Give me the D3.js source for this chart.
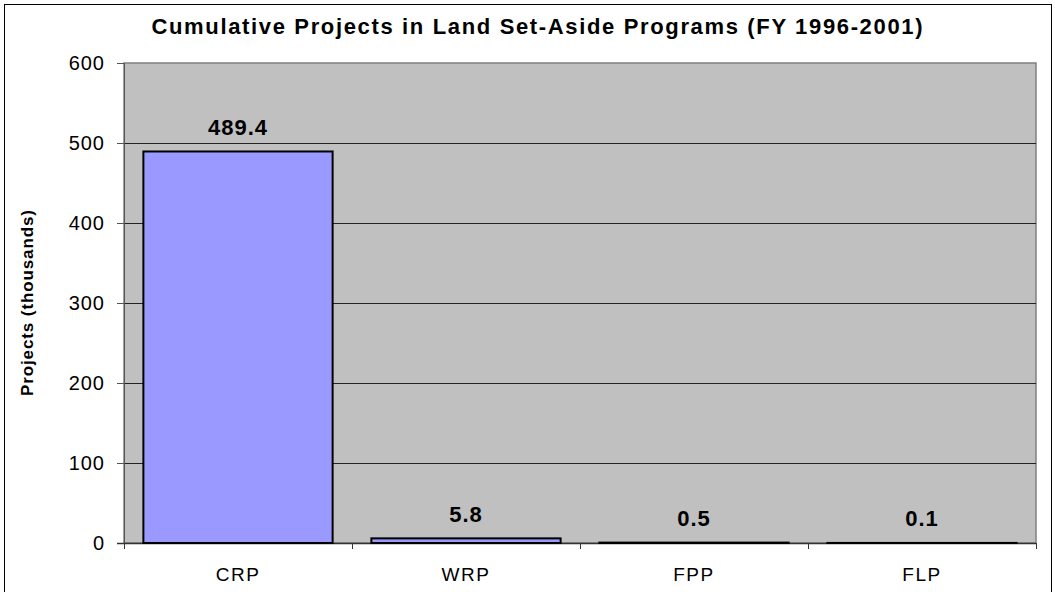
<!DOCTYPE html>
<html lang="en"><head>
<meta charset="utf-8">
<title>Land Set-Aside Programs</title>
<script src="https://cdnjs.cloudflare.com/ajax/libs/d3/7.8.5/d3.min.js"></script>
<style>
  body { margin: 0; background: #fff; }
  text { font-family: "Liberation Sans", Arial, sans-serif; }
</style>
</head>
<body>
<div id="chart"></div>
<script>
var programs = ["CRP", "WRP", "FPP", "FLP"];
var projects = [489.4, 5.8, 0.5, 0.1];
var yTicks = [0, 100, 200, 300, 400, 500, 600];

var W = 1055, H = 592;
var plot = {left: 124, top: 63, right: 1036, bottom: 543};

var svg = d3.select("#chart").append("svg")
  .attr("width", W).attr("height", H);

// outer chart border
svg.append("rect")
  .attr("x", 4.5).attr("y", 4.5)
  .attr("width", 1047).attr("height", 600)
  .attr("fill", "none").attr("stroke", "#000").attr("stroke-width", 1);

var x = d3.scaleBand().domain(programs)
  .range([plot.left, plot.right]).paddingInner(0.17).paddingOuter(0.085);
var xEdges = d3.scaleLinear().domain([0, programs.length]).range([plot.left, plot.right]);
var y = d3.scaleLinear().domain([0, 600]).range([plot.bottom, plot.top]);

// plot area
svg.append("rect")
  .attr("x", plot.left).attr("y", plot.top)
  .attr("width", plot.right - plot.left).attr("height", plot.bottom - plot.top)
  .attr("fill", "#c0c0c0").attr("stroke", "#808080").attr("stroke-width", 1.5);

// gridlines
svg.append("g").selectAll("line")
  .data(yTicks.filter(function(d) { return d > 0 && d < 600; }))
  .enter().append("line")
  .attr("x1", plot.left).attr("x2", plot.right)
  .attr("y1", function(d) { return Math.round(y(d)) + 0.5; })
  .attr("y2", function(d) { return Math.round(y(d)) + 0.5; })
  .attr("stroke", "#222").attr("stroke-width", 1);

// y axis
var yAxis = svg.append("g")
  .attr("transform", "translate(" + plot.left + ",0)")
  .call(d3.axisLeft(y).tickValues(yTicks).tickSize(7).tickPadding(12));
yAxis.select(".domain").attr("stroke", "#555");
yAxis.selectAll(".tick line").attr("stroke", "#555");
yAxis.selectAll(".tick text").attr("font-size", "20px").attr("fill", "#000")
  .attr("letter-spacing", "1px")
  .attr("font-family", "Liberation Sans, Arial, sans-serif");

// x axis baseline and ticks at category boundaries
svg.append("line")
  .attr("x1", plot.left - 7).attr("x2", plot.right)
  .attr("y1", plot.bottom + 0.5).attr("y2", plot.bottom + 0.5)
  .attr("stroke", "#333").attr("stroke-width", 1.5);
svg.append("g").selectAll("line")
  .data(d3.range(programs.length + 1))
  .enter().append("line")
  .attr("x1", function(i) { return Math.round(xEdges(i)) + 0.5; })
  .attr("x2", function(i) { return Math.round(xEdges(i)) + 0.5; })
  .attr("y1", plot.bottom).attr("y2", plot.bottom + 6)
  .attr("stroke", "#333");

svg.append("g").selectAll("text")
  .data(programs)
  .enter().append("text")
  .attr("x", function(d) { return x(d) + x.bandwidth() / 2; })
  .attr("y", 581)
  .attr("text-anchor", "middle")
  .attr("font-size", "19px")
  .attr("letter-spacing", "1.5px")
  .text(function(d) { return d; });

// bars
svg.append("g").selectAll("rect")
  .data(projects)
  .enter().append("rect")
  .attr("x", function(d, i) { return x(programs[i]); })
  .attr("y", function(d) { return y(d); })
  .attr("width", x.bandwidth())
  .attr("height", function(d) { return y(0) - y(d); })
  .attr("fill", "#9999ff").attr("stroke", "#000").attr("stroke-width", 2);

// value labels
svg.append("g").selectAll("text")
  .data(projects)
  .enter().append("text")
  .attr("x", function(d, i) { return x(programs[i]) + x.bandwidth() / 2; })
  .attr("y", function(d) { return y(d) - 16.5; })
  .attr("text-anchor", "middle")
  .attr("font-size", "22px").attr("font-weight", "bold")
  .attr("letter-spacing", "1px")
  .text(function(d) { return d.toFixed(1); });

// title
svg.append("text")
  .attr("x", 537).attr("y", 34)
  .attr("text-anchor", "middle")
  .attr("font-size", "22px").attr("font-weight", "bold")
  .attr("textLength", 771).attr("lengthAdjust", "spacing")
  .text("Cumulative Projects in Land Set-Aside Programs (FY 1996-2001)");

// y label
svg.append("text")
  .attr("transform", "translate(33,303) rotate(-90)")
  .attr("text-anchor", "middle")
  .attr("font-size", "17px").attr("font-weight", "bold")
  .attr("textLength", 186).attr("lengthAdjust", "spacing")
  .text("Projects (thousands)");
</script>
</body></html>
